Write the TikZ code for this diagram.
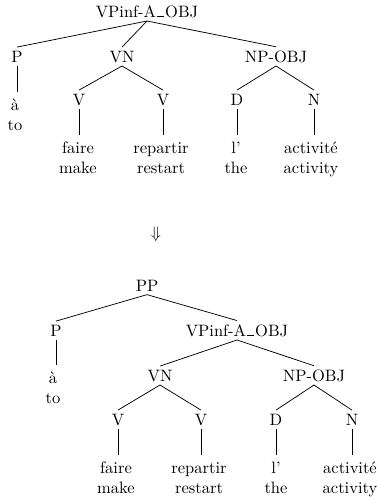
\documentclass[tikz,border=0pt]{standalone}
% underscore drawn as a short rule on the baseline
\newcommand\usc{\kern.05em\vbox{\hrule width .45em}\kern.05em}
% two-line leaf: word and its gloss
\newcommand\lf[2]{\renewcommand\arraystretch{1.06}\begin{tabular}[t]{@{}c@{}}#1\\#2\end{tabular}}
\begin{document}
\begin{tikzpicture}[x=0.606pt,y=-0.606pt,
  lbl/.style={anchor=base, inner sep=2pt},
  br/.style={line width=0.45pt}]
\useasboundingbox (0,0) rectangle (376,497);

% ---- first tree ----
\node[lbl] (t0)  at (147,17)  {VPinf-A\usc OBJ};
\node[lbl] (tP)  at (17,62)   {P};
\node[lbl] (tVN) at (122,62)  {VN};
\node[lbl] (tNP) at (276,62)  {NP-OBJ};
\node[lbl] (ta)  at (15,110)  {\lf{à}{to}};
\node[lbl] (tV1) at (79,105)  {V};
\node[lbl] (tV2) at (163,105) {V};
\node[lbl] (tD)  at (237,105) {D};
\node[lbl] (tN)  at (314,105) {N};
\node[lbl] (tw1) at (78,153)  {\lf{faire}{make}};
\node[lbl] (tw2) at (161,153) {\lf{repartir}{restart}};
\node[lbl] (tw3) at (236,153) {\lf{l'}{the}};
\node[lbl] (tw4) at (311,153) {\lf{activité}{activity}};

\draw[br] (t0.south) -- (tP.north);
\draw[br] (t0.south) -- (tVN.north);
\draw[br] (t0.south) -- (tNP.north);
\draw[br] (tP.south) -- (tP.south |- ta.north);
\draw[br] (tVN.south) -- (tV1.north);
\draw[br] (tVN.south) -- (tV2.north);
\draw[br] (tNP.south) -- (tD.north);
\draw[br] (tNP.south) -- (tN.north);
\draw[br] (tV1.south) -- (tV1.south |- tw1.north);
\draw[br] (tV2.south) -- (tV2.south |- tw2.north);
\draw[br] (tD.south) -- (tD.south |- tw3.north);
\draw[br] (tN.south) -- (tN.south |- tw4.north);

% ---- rewriting arrow ----
\node (arr) at (156,234) {$\Downarrow$};

% ---- second tree ----
\node[lbl] (b0)  at (147,291) {PP};
\node[lbl] (bP)  at (56,336)  {P};
\node[lbl] (bVP) at (237,336) {VPinf-A\usc OBJ};
\node[lbl] (ba)  at (53,383)  {\lf{à}{to}};
\node[lbl] (bVN) at (160,381) {VN};
\node[lbl] (bNP) at (314,381) {NP-OBJ};
\node[lbl] (bV1) at (118,425) {V};
\node[lbl] (bV2) at (201,425) {V};
\node[lbl] (bD)  at (276,425) {D};
\node[lbl] (bN)  at (352,425) {N};
\node[lbl] (bw1) at (116,473) {\lf{faire}{make}};
\node[lbl] (bw2) at (199,473) {\lf{repartir}{restart}};
\node[lbl] (bw3) at (276,473) {\lf{l'}{the}};
\node[lbl] (bw4) at (350,473) {\lf{activité}{activity}};

\draw[br] (b0.south) -- (bP.north);
\draw[br] (b0.south) -- (bVP.north);
\draw[br] (bP.south) -- (bP.south |- ba.north);
\draw[br] (bVP.south) -- (bVN.north);
\draw[br] (bVP.south) -- (bNP.north);
\draw[br] (bVN.south) -- (bV1.north);
\draw[br] (bVN.south) -- (bV2.north);
\draw[br] (bNP.south) -- (bD.north);
\draw[br] (bNP.south) -- (bN.north);
\draw[br] (bV1.south) -- (bV1.south |- bw1.north);
\draw[br] (bV2.south) -- (bV2.south |- bw2.north);
\draw[br] (bD.south) -- (bD.south |- bw3.north);
\draw[br] (bN.south) -- (bN.south |- bw4.north);
\end{tikzpicture}
\end{document}
